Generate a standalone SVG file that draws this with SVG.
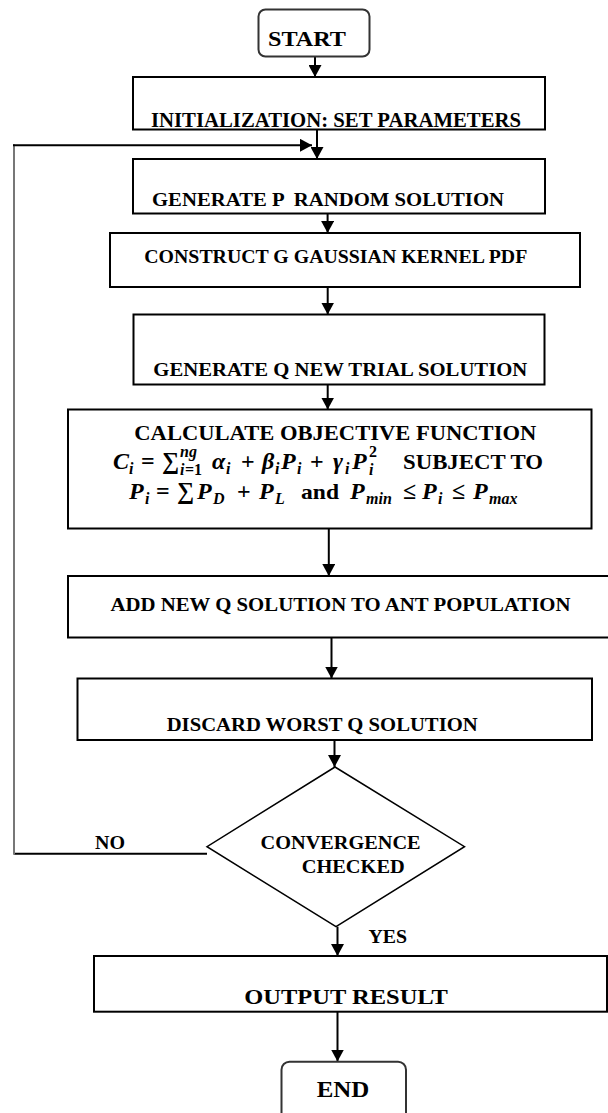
<svg xmlns="http://www.w3.org/2000/svg" width="608" height="1113" viewBox="0 0 608 1113">
<defs>
<style>
.bx{fill:#fff;stroke:#000;stroke-width:2}
.rd{fill:#fff;stroke:#333;stroke-width:2}
.dm{fill:#fff;stroke:#000;stroke-width:1.5}
.ln{fill:none;stroke:#000;stroke-width:2}
.gl{fill:none;stroke:#777;stroke-width:2}
text{font-family:"Liberation Serif","Times New Roman",serif;font-weight:bold;fill:#000;white-space:pre}
.m{font-style:italic}
.s{font-size:16px}
</style>
<marker id="ah" viewBox="0 0 12 13" refX="12" refY="6.5" markerWidth="12" markerHeight="13" markerUnits="userSpaceOnUse" orient="auto"><path d="M0,0 L12,6.5 L0,13 Z" fill="#000"/></marker>
</defs>
<rect width="608" height="1113" fill="#fff"/>

<g id="connectors">
<line class="ln" x1="315" y1="57" x2="315" y2="77" marker-end="url(#ah)"/>
<line class="ln" x1="317" y1="130" x2="317" y2="159" marker-end="url(#ah)"/>
<line class="ln" x1="207" y1="853.7" x2="14" y2="853.7"/>
<line class="gl" x1="14" y1="854.7" x2="14" y2="144.3"/>
<line class="ln" x1="13" y1="145.3" x2="312" y2="145.3" marker-end="url(#ah)"/>
<line class="ln" x1="327.6" y1="214" x2="327.6" y2="233" marker-end="url(#ah)"/>
<line class="ln" x1="327.7" y1="287" x2="327.7" y2="314.5" marker-end="url(#ah)"/>
<line class="ln" x1="327.7" y1="385" x2="327.7" y2="409.5" marker-end="url(#ah)"/>
<line class="ln" x1="328.8" y1="529" x2="328.8" y2="576" marker-end="url(#ah)"/>
<line class="ln" x1="331.5" y1="638" x2="331.5" y2="678.5" marker-end="url(#ah)"/>
<line class="ln" x1="334.5" y1="740.5" x2="334.5" y2="767" marker-end="url(#ah)"/>
<line class="ln" x1="337.5" y1="926.7" x2="337.5" y2="956" marker-end="url(#ah)"/>
<line class="ln" x1="337.5" y1="1012" x2="337.5" y2="1061.5" marker-end="url(#ah)"/>
</g>

<g id="start">
<rect class="rd" x="258.5" y="9.5" width="111" height="47" rx="7"/>
<text x="268" y="45.7" font-size="22" textLength="78" lengthAdjust="spacingAndGlyphs">START</text>
</g>

<g id="init">
<rect class="bx" x="133" y="77" width="412" height="52.5"/>
<text x="151" y="126.7" font-size="20" textLength="370" lengthAdjust="spacingAndGlyphs">INITIALIZATION: SET PARAMETERS</text>
</g>

<g id="genp">
<rect class="bx" x="133" y="159" width="412" height="54.5"/>
<text x="152" y="206" font-size="19.5" textLength="352" lengthAdjust="spacingAndGlyphs">GENERATE P  RANDOM SOLUTION</text>
</g>

<g id="construct">
<rect class="bx" x="110" y="233" width="470" height="54"/>
<text x="144.3" y="263.3" font-size="19" textLength="383" lengthAdjust="spacingAndGlyphs">CONSTRUCT G GAUSSIAN KERNEL PDF</text>
</g>

<g id="genq">
<rect class="bx" x="133.5" y="314.5" width="411" height="70"/>
<text x="153.3" y="375.7" font-size="19" textLength="374" lengthAdjust="spacingAndGlyphs">GENERATE Q NEW TRIAL SOLUTION</text>
</g>

<g id="calc">
<rect class="bx" x="68" y="409.5" width="523.5" height="119"/>
<text x="134.3" y="440" font-size="21" textLength="402" lengthAdjust="spacingAndGlyphs">CALCULATE OBJECTIVE FUNCTION</text>
<text font-size="24"><tspan class="m" x="113" y="469">C</tspan><tspan class="m s" x="129" y="474">i</tspan><tspan x="141" y="469">=</tspan><tspan x="162" y="469">∑</tspan><tspan class="m s" x="180" y="457">ng</tspan><tspan class="m s" x="180" y="475">i</tspan><tspan class="s" x="185" y="475">=1</tspan><tspan class="m" x="212" y="469">α</tspan><tspan class="m s" x="226" y="474">i</tspan><tspan x="241" y="469">+</tspan><tspan class="m" x="262" y="469">β</tspan><tspan class="m s" x="275" y="474">i</tspan><tspan class="m" x="281" y="469">P</tspan><tspan class="m s" x="297" y="474">i</tspan><tspan x="310" y="469">+</tspan><tspan class="m" x="333" y="469">γ</tspan><tspan class="m s" x="345" y="474">i</tspan><tspan class="m" x="352" y="469">P</tspan><tspan class="s" x="369" y="457">2</tspan><tspan class="m s" x="369" y="475">i</tspan></text>
<text x="403" y="469" font-size="21" textLength="140" lengthAdjust="spacingAndGlyphs">SUBJECT TO</text>
<text font-size="24"><tspan class="m" x="129" y="499">P</tspan><tspan class="m s" x="145" y="504">i</tspan><tspan x="156" y="499">=</tspan><tspan x="177" y="499">∑</tspan><tspan class="m" x="197" y="499">P</tspan><tspan class="m s" x="213" y="504">D</tspan><tspan x="237" y="499">+</tspan><tspan class="m" x="259" y="499">P</tspan><tspan class="m s" x="275" y="504">L</tspan><tspan class="m" x="350" y="499">P</tspan><tspan class="m s" x="366" y="504">min</tspan><tspan x="403" y="499">≤</tspan><tspan class="m" x="422" y="499">P</tspan><tspan class="m s" x="438" y="504">i</tspan><tspan x="452" y="499">≤</tspan><tspan class="m" x="473" y="499">P</tspan><tspan class="m s" x="489" y="504">max</tspan></text>
<text x="301" y="499" font-size="21" textLength="38" lengthAdjust="spacingAndGlyphs">and</text>
</g>

<g id="add">
<rect class="bx" x="68" y="576" width="550" height="61.5"/>
<text x="110.5" y="610.7" font-size="19" textLength="460" lengthAdjust="spacingAndGlyphs">ADD NEW Q SOLUTION TO ANT POPULATION</text>
</g>

<g id="discard">
<rect class="bx" x="77.5" y="678.5" width="514.5" height="61.5"/>
<text x="166.7" y="730.7" font-size="19" textLength="311" lengthAdjust="spacingAndGlyphs">DISCARD WORST Q SOLUTION</text>
</g>

<g id="convergence">
<polygon class="dm" points="335,767 464.5,846.7 336,926.7 207,846.7"/>
<text x="260.6" y="849" font-size="18" textLength="160" lengthAdjust="spacingAndGlyphs">CONVERGENCE</text>
<text x="301.7" y="872.7" font-size="18" textLength="103" lengthAdjust="spacingAndGlyphs">CHECKED</text>
</g>

<g id="labels">
<text x="95" y="849" font-size="18" textLength="30" lengthAdjust="spacingAndGlyphs">NO</text>
<text x="368.4" y="943.3" font-size="18" textLength="38.6" lengthAdjust="spacingAndGlyphs">YES</text>
</g>

<g id="output">
<rect class="bx" x="94" y="956" width="513" height="55.7"/>
<text x="244.3" y="1004" font-size="22" textLength="203.5" lengthAdjust="spacingAndGlyphs">OUTPUT RESULT</text>
</g>

<g id="end">
<rect class="rd" x="281.5" y="1061.7" width="124.5" height="70" rx="8"/>
<text x="316.7" y="1097.3" font-size="23" textLength="52.6" lengthAdjust="spacingAndGlyphs">END</text>
</g>
</svg>
